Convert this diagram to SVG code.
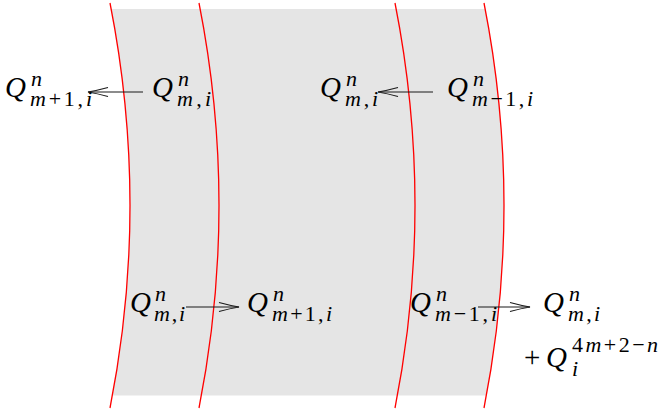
<svg xmlns="http://www.w3.org/2000/svg" width="665" height="413" viewBox="0 0 665 413">
<style>
.q{font-family:"Liberation Serif","DejaVu Serif",serif;font-style:italic;font-size:29px;fill:#000}
.s{font-family:"Liberation Serif","DejaVu Serif",serif;font-style:italic;font-size:22px;fill:#000}
.up{font-style:normal}
.rm{font-family:"Liberation Serif","DejaVu Serif",serif;font-size:29px;fill:#000}
.red{fill:none;stroke:#ff0000;stroke-width:1.3}
.arr{fill:none;stroke:#1a1a1a;stroke-width:1.2;marker-end:url(#to)}
</style>
<defs>
<marker id="to" markerUnits="userSpaceOnUse" viewBox="-22 -6 24 12" markerWidth="24" markerHeight="12" refX="0" refY="0" orient="auto">
<path d="M-20,-4.5 Q-9,-1.5 0,0 Q-9,1.5 -20,4.5" fill="none" stroke="#1a1a1a" stroke-width="1.2"/>
</marker>
<clipPath id="band"><rect x="0" y="9" width="665" height="386.5"/></clipPath>
</defs>
<g id="background">
<path d="M110,3 Q150,205.5 110,408 L484,408 Q524,205.5 484,3 Z" fill="#e5e5e5" clip-path="url(#band)"/>
</g>
<g id="boundaries">
<path class="red" d="M110,3 Q150,205.5 110,408"/>
<path class="red" d="M199,3 Q239,205.5 199,408"/>
<path class="red" d="M395,3 Q435,205.5 395,408"/>
<path class="red" d="M484,3 Q524,205.5 484,408"/>
</g>
<g id="connectors">
<path class="arr" d="M143,92 L88,92"/>
<path class="arr" d="M433,92 L378,92"/>
<path class="arr" d="M186,307 L239,307"/>
<path class="arr" d="M478,307 L530,307"/>
</g>
<g id="n1">
<text class="q" x="5" y="97">Q</text>
<text class="s" x="31" y="86">n</text>
<text class="s" x="30" y="106" textLength="62" lengthAdjust="spacing">m<tspan class="up">+1,</tspan>i</text>
</g>
<g id="n2">
<text class="q" x="152" y="97">Q</text>
<text class="s" x="178" y="86">n</text>
<text class="s" x="177" y="106" textLength="34" lengthAdjust="spacing">m<tspan class="up">,</tspan>i</text>
</g>
<g id="n3">
<text class="q" x="320" y="97">Q</text>
<text class="s" x="346" y="86">n</text>
<text class="s" x="345" y="106" textLength="33" lengthAdjust="spacing">m<tspan class="up">,</tspan>i</text>
</g>
<g id="n4">
<text class="q" x="447" y="97">Q</text>
<text class="s" x="473" y="86">n</text>
<text class="s" x="472" y="106" textLength="61" lengthAdjust="spacing">m<tspan class="up">−1,</tspan>i</text>
</g>
<g id="n5">
<text class="q" x="130" y="312">Q</text>
<text class="s" x="155" y="301">n</text>
<text class="s" x="154" y="321" textLength="31" lengthAdjust="spacing">m<tspan class="up">,</tspan>i</text>
</g>
<g id="n6">
<text class="q" x="247" y="312">Q</text>
<text class="s" x="273" y="301">n</text>
<text class="s" x="272" y="321" textLength="60" lengthAdjust="spacing">m<tspan class="up">+1,</tspan>i</text>
</g>
<g id="n7">
<text class="q" x="410" y="312">Q</text>
<text class="s" x="436" y="301">n</text>
<text class="s" x="435" y="321" textLength="62" lengthAdjust="spacing">m<tspan class="up">−1,</tspan>i</text>
</g>
<g id="n8">
<text class="q" x="543" y="312">Q</text>
<text class="s" x="569" y="301">n</text>
<text class="s" x="568" y="321" textLength="32" lengthAdjust="spacing">m<tspan class="up">,</tspan>i</text>
<text class="rm" x="524" y="367">+</text>
<text class="q" x="546" y="367">Q</text>
<text class="s" x="572" y="352" textLength="86" lengthAdjust="spacing"><tspan class="up">4</tspan>m<tspan class="up">+2−</tspan>n</text>
<text class="s" x="572" y="376">i</text>
</g>
</svg>
